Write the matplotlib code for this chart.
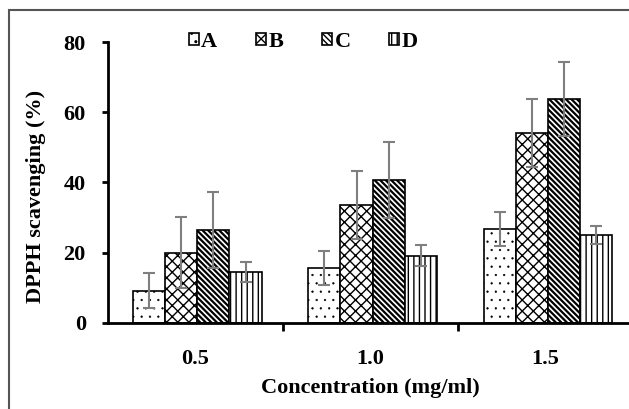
import numpy as np
import matplotlib
matplotlib.use('Agg')
import matplotlib.pyplot as plt
from matplotlib.patches import Rectangle

# data
concentrations = ['0.5', '1.0', '1.5']
series = ['A', 'B', 'C', 'D']
values = {
    'A': [9.2, 15.7, 26.8],
    'B': [20.0, 33.6, 54.1],
    'C': [26.5, 40.7, 63.8],
    'D': [14.5, 19.2, 25.1],
}
errors = {
    'A': [5.0, 4.9, 4.9],
    'B': [10.1, 9.8, 9.8],
    'C': [10.9, 10.9, 10.5],
    'D': [2.8, 3.0, 2.6],
}
hatches = {'A': '..', 'B': 'xxx', 'C': '\\' * 6, 'D': '|||'}
hatch_lw = {'A': 0.4, 'B': 1.0, 'C': 1.6, 'D': 1.0}

plt.rcParams['font.family'] = ['Liberation Serif', 'DejaVu Serif']
plt.rcParams['font.weight'] = 'bold'
plt.rcParams['hatch.linewidth'] = 1.0

fig = plt.figure(figsize=(6.29, 4.09), dpi=100)
ax = fig.add_axes([0.1717, 0.2103, 0.835, 0.687])

x = np.arange(len(concentrations))
w = 0.183
for i, s in enumerate(series):
    pos = x + 0.011 + (i - 1.5) * w
    bars = ax.bar(pos, values[s], width=w, color='white', edgecolor='black',
                  linewidth=1.2, hatch=hatches[s], label=s)
    for b in bars:
        if hasattr(b, 'set_hatch_linewidth'):
            b.set_hatch_linewidth(hatch_lw[s])
    ax.errorbar(pos, values[s], yerr=errors[s], fmt='none', ecolor='#7f7f7f',
                elinewidth=1.5, capsize=4, capthick=1.5)

ax.set_xlim(-0.5, 2.5)
ax.set_ylim(0, 80)
ax.set_yticks([0, 20, 40, 60, 80])
ax.set_xticks(x)
ax.set_xticklabels(concentrations)
ax.set_xticks([0.5, 1.5], minor=True)
ax.tick_params(axis='x', which='major', length=0, pad=19, labelsize=16)
ax.tick_params(axis='x', which='minor', length=6, width=2, direction='out')
ax.tick_params(axis='y', length=4.5, width=2, direction='out', pad=11.5, labelsize=16)
for sp in ['top', 'right']:
    ax.spines[sp].set_visible(False)
for sp in ['left', 'bottom']:
    ax.spines[sp].set_linewidth(2)

ax.set_ylabel('DPPH scavenging (%)', fontsize=16, fontweight='bold')
ax.yaxis.set_label_coords(-0.118, 0.452)
ax.set_xlabel('Concentration (mg/ml)', fontsize=16, fontweight='bold', labelpad=6)

leg = ax.legend(loc='center', bbox_to_anchor=(0.372, 1.0), ncol=4, frameon=False,
                handlelength=0.45, handleheight=0.45, handletextpad=0.1,
                columnspacing=1.75, prop={'family': 'Liberation Serif', 'size': 16, 'weight': 'bold'})

# grey frame around the whole picture
fig.patches.append(Rectangle((9 / 629, -0.1), 1.2, 1 - 10 / 409 + 0.1,
                             transform=fig.transFigure, fill=False,
                             edgecolor='#555555', linewidth=1.5))

fig.savefig('out.png', dpi=100)
